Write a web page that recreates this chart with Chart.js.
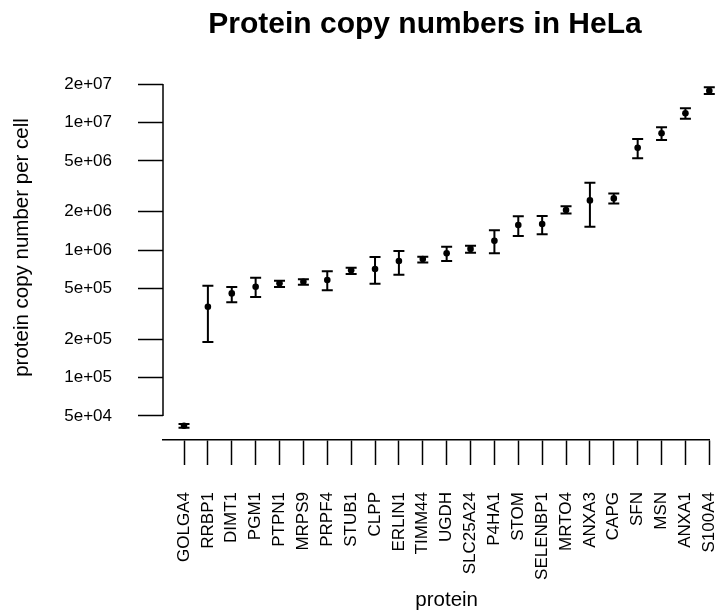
<!DOCTYPE html>
<html>
<head>
<meta charset="utf-8">
<script src="https://cdn.jsdelivr.net/npm/chart.js@4/dist/chart.umd.min.js"></script>
<style>
  html, body { margin: 0; padding: 0; background: #fff; }
  canvas { display: block; }
</style>
</head>
<body>
<canvas id="chart" width="719" height="614"></canvas>
<script>
const proteins = ["GOLGA4", "RRBP1", "DIMT1", "PGM1", "PTPN1", "MRPS9", "PRPF4", "STUB1",
  "CLPP", "ERLIN1", "TIMM44", "UGDH", "SLC25A24", "P4HA1", "STOM", "SELENBP1",
  "MRTO4", "ANXA3", "CAPG", "SFN", "MSN", "ANXA1", "S100A4"];
const copyNumber = [4.19e4, 3.59e5, 4.57e5, 5.15e5, 5.48e5, 5.64e5, 5.82e5, 6.93e5,
  7.1e5, 8.2e5, 8.5e5, 9.42e5, 1.02e6, 1.18e6, 1.57e6, 1.60e6,
  2.06e6, 2.45e6, 2.54e6, 6.34e6, 8.23e6, 1.18e7, 1.77e7];
const copyLower = [4.05e4, 1.90e5, 3.89e5, 4.28e5, 5.13e5, 5.35e5, 4.83e5, 6.48e5,
  5.44e5, 6.4e5, 8.0e5, 8.2e5, 9.53e5, 9.42e5, 1.29e6, 1.33e6,
  1.93e6, 1.52e6, 2.32e6, 5.24e6, 7.29e6, 1.07e7, 1.67e7];
const copyUpper = [4.33e4, 5.25e5, 5.13e5, 6.07e5, 5.74e5, 5.89e5, 6.81e5, 7.27e5,
  8.81e5, 9.82e5, 8.87e5, 1.06e6, 1.08e6, 1.43e6, 1.84e6, 1.85e6,
  2.2e6, 3.37e6, 2.78e6, 7.42e6, 9.17e6, 1.29e7, 1.89e7];
const yTickValues = [5e4, 1e5, 2e5, 5e5, 1e6, 2e6, 5e6, 1e7, 2e7];
const yTickLabels = ["5e+04", "1e+05", "2e+05", "5e+05", "1e+06", "2e+06", "5e+06", "1e+07", "2e+07"];

const FONT = "'Liberation Sans', Arial, Helvetica, sans-serif";

// error bars, the short y axis line and the two free-standing titles
const extras = {
  id: "extras",
  afterDatasetsDraw(chart) {
    const { ctx, scales: { x, y }, chartArea } = chart;
    ctx.save();
    ctx.strokeStyle = "#000";
    ctx.lineWidth = 2;
    proteins.forEach((p, i) => {
      const px = x.getPixelForValue(i);
      const lo = y.getPixelForValue(copyLower[i]);
      const hi = y.getPixelForValue(copyUpper[i]);
      ctx.beginPath();
      ctx.moveTo(px, lo); ctx.lineTo(px, hi);
      ctx.moveTo(px - 5.5, lo); ctx.lineTo(px + 5.5, lo);
      ctx.moveTo(px - 5.5, hi); ctx.lineTo(px + 5.5, hi);
      ctx.stroke();
    });

    ctx.lineWidth = 1.5;
    ctx.beginPath();
    ctx.moveTo(chartArea.left, y.getPixelForValue(yTickValues[0]));
    ctx.lineTo(chartArea.left, y.getPixelForValue(yTickValues[yTickValues.length - 1]));
    ctx.stroke();

    ctx.fillStyle = "#000";
    ctx.textAlign = "center";
    ctx.textBaseline = "alphabetic";
    ctx.font = "bold 30px " + FONT;
    ctx.fillText("Protein copy numbers in HeLa", 425, 33);
    ctx.font = "20.5px " + FONT;
    ctx.fillText("protein", x.getPixelForValue(11), 605.5);
    ctx.restore();
  }
};

new Chart(document.getElementById("chart"), {
  type: "scatter",
  data: {
    datasets: [{
      data: proteins.map((p, i) => ({ x: i, y: copyNumber[i] })),
      backgroundColor: "#000",
      borderWidth: 0,
      pointRadius: 3.3,
      clip: false,
    }],
  },
  options: {
    responsive: false,
    animation: false,
    devicePixelRatio: 1,
    layout: { padding: { top: 55, right: 9.7, bottom: 0, left: 0 } },
    plugins: {
      legend: { display: false },
      title: { display: false },
      tooltip: { enabled: false },
    },
    scales: {
      x: {
        type: "linear",
        min: -0.88,
        max: 22,
        afterBuildTicks: (scale) => {
          scale.ticks = proteins.map((p, i) => ({ value: i }));
        },
        afterFit: (scale) => {
          scale.height = 174;
          scale.paddingLeft = 0;
          scale.paddingRight = 0;
        },
        grid: {
          drawOnChartArea: false,
          drawTicks: true,
          tickLength: 25,
          tickWidth: 1.5,
          tickColor: "#000",
        },
        border: { display: true, color: "#000", width: 1.5 },
        ticks: {
          autoSkip: false,
          minRotation: 90,
          maxRotation: 90,
          padding: 27,
          color: "#000",
          font: { family: FONT, size: 17 },
          callback: (value) => proteins[value],
        },
      },
      y: {
        type: "logarithmic",
        min: 3.24e4,
        max: 3.38e7,
        afterBuildTicks: (scale) => {
          scale.ticks = yTickValues.map((v) => ({ value: v }));
        },
        afterFit: (scale) => {
          scale.width = 163;
          scale.paddingTop = 0;
          scale.paddingBottom = 0;
        },
        grid: {
          drawOnChartArea: false,
          drawTicks: true,
          tickLength: 25,
          tickWidth: 1.5,
          tickColor: "#000",
        },
        border: { display: false },
        ticks: {
          padding: 26,
          color: "#000",
          font: { family: FONT, size: 17 },
          callback: (value, index) => yTickLabels[index],
        },
        title: {
          display: true,
          text: "protein copy number per cell",
          color: "#000",
          font: { family: FONT, size: 20.5 },
          padding: { top: 10.3, bottom: 0 },
        },
      },
    },
  },
  plugins: [extras],
});
</script>
</body>
</html>
